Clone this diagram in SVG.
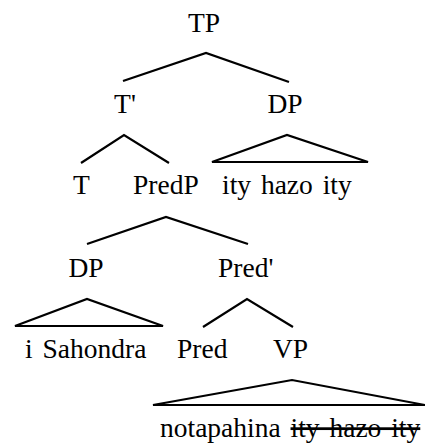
<svg xmlns="http://www.w3.org/2000/svg" width="425" height="446" viewBox="0 0 425 446">
<style>
text{font-family:'Liberation Serif','DejaVu Serif',serif;font-size:27.5px;fill:#000}
.c{text-anchor:middle}
.e{fill:none;stroke:#000;stroke-width:2.2;stroke-linejoin:miter}
</style>
<rect width="425" height="446" fill="#fff"/>
<g id="connectors">
<polyline class="e" points="123,81 206,53 289,82"/>
<polyline class="e" points="81,163 124,135 169,163"/>
<polygon class="e" points="212,162 287,135 368,162"/>
<polyline class="e" points="87,244 166,217 248,244"/>
<polygon class="e" points="15,326 87,299 163,326"/>
<polyline class="e" points="203,327 247,299 293,327"/>
<polygon class="e" points="153,405 292,380 425,405"/>
</g>
<g id="TP"><text class="c" x="204" y="32">TP</text></g>
<g id="Tbar"><text class="c" x="125" y="113">T'</text></g>
<g id="DP1"><text class="c" x="285" y="113">DP</text></g>
<g id="T"><text x="73" y="194">T</text></g>
<g id="PredP"><text x="133" y="194">PredP</text></g>
<g id="ityhazoity"><text x="222" y="194" word-spacing="3">ity hazo ity</text></g>
<g id="DP2"><text class="c" x="86" y="277">DP</text></g>
<g id="Predbar"><text x="218" y="277">Pred'</text></g>
<g id="iSahondra"><text x="25" y="358" word-spacing="3">i Sahondra</text></g>
<g id="Pred"><text x="177" y="358">Pred</text></g>
<g id="VP"><text x="273" y="358">VP</text></g>
<g id="notapahina"><text x="160" y="437" word-spacing="3">notapahina <tspan text-decoration="line-through">ity hazo ity</tspan></text></g>
</svg>
